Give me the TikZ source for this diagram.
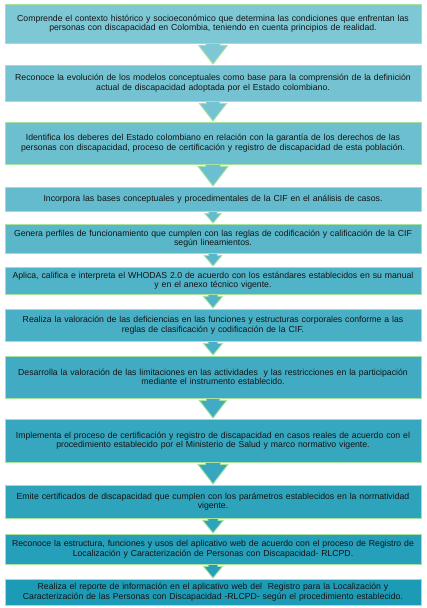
\documentclass[tikz,border=0pt]{standalone}
\usepackage{fontspec}
\setmainfont{Liberation Sans}
\usetikzlibrary{calc}
\definecolor{bc1}{RGB}{126,199,213}
\definecolor{bc2}{RGB}{117,195,210}
\definecolor{bc3}{RGB}{108,191,207}
\definecolor{bc4}{RGB}{99,187,205}
\definecolor{bc5}{RGB}{90,183,202}
\definecolor{bc6}{RGB}{81,179,199}
\definecolor{bc7}{RGB}{73,175,197}
\definecolor{bc8}{RGB}{64,171,194}
\definecolor{bc9}{RGB}{55,167,191}
\definecolor{bc10}{RGB}{46,163,188}
\definecolor{bc11}{RGB}{37,159,186}
\definecolor{bc12}{RGB}{28,155,183}
\definecolor{edgegreen}{RGB}{168,226,158}
\definecolor{txt}{RGB}{20,20,20}
\tikzset{
  box/.style={draw=edgegreen, line width=1pt, rectangle, minimum width=416pt,
    inner sep=0pt, text width=414pt, align=center, text=txt,
    font=\fontsize{8.7}{9.5}\selectfont},
  blockarrow/.style={draw=edgegreen, line width=0.9pt, line join=miter}
}
\newcommand{\downarrowbox}[3]{%
  \path[blockarrow, fill=#3] let \p1=(#1.south), \p2=(#2.north),
    \n1={\y1-\y2}, \n2={min(16,0.68*\n1)} in
    (\x1-\n2/2,\y1+3) -- (\x1-\n2/2,\y1-2) -- (\x1-\n2,\y1-2) --
    (\x1,\y2+0.5) -- (\x1+\n2,\y1-2) -- (\x1+\n2/2,\y1-2) --
    (\x1+\n2/2,\y1+3) -- cycle;}
\begin{document}
\begin{tikzpicture}[x=1pt,y=1pt]
\useasboundingbox (0,0) rectangle (426,-608);
% coordinates for nodes
\coordinate (p1) at (213,-23.5);
\coordinate (p2) at (213,-83);
\coordinate (p3) at (213,-143);
\coordinate (p4) at (213,-199);
\coordinate (p5) at (213,-238.5);
\coordinate (p6) at (213,-280.5);
\coordinate (p7) at (213,-325);
\coordinate (p8) at (213,-377);
\coordinate (p9) at (213,-440.5);
\coordinate (p10) at (213,-501.5);
\coordinate (p11) at (213,-549);
\coordinate (p12) at (213,-592);
% invisible placeholders first to have names for arrows
\node[box, draw=none, minimum height=39pt] (b1) at (p1) {};
\node[box, draw=none, minimum height=36pt] (b2) at (p2) {};
\node[box, draw=none, minimum height=42pt] (b3) at (p3) {};
\node[box, draw=none, minimum height=24pt] (b4) at (p4) {};
\node[box, draw=none, minimum height=29pt] (b5) at (p5) {};
\node[box, draw=none, minimum height=27pt] (b6) at (p6) {};
\node[box, draw=none, minimum height=32pt] (b7) at (p7) {};
\node[box, draw=none, minimum height=42pt] (b8) at (p8) {};
\node[box, draw=none, minimum height=43pt] (b9) at (p9) {};
\node[box, draw=none, minimum height=33pt] (b10) at (p10) {};
\node[box, draw=none, minimum height=30pt] (b11) at (p11) {};
\node[box, draw=none, minimum height=26pt] (b12) at (p12) {};
% arrows
\downarrowbox{b1}{b2}{bc1}
\downarrowbox{b2}{b3}{bc2}
\downarrowbox{b3}{b4}{bc3}
\downarrowbox{b4}{b5}{bc4}
\downarrowbox{b5}{b6}{bc5}
\downarrowbox{b6}{b7}{bc6}
\downarrowbox{b7}{b8}{bc7}
\downarrowbox{b8}{b9}{bc8}
\downarrowbox{b9}{b10}{bc9}
\downarrowbox{b10}{b11}{bc10}
\downarrowbox{b11}{b12}{bc11}
% boxes
\node[box, fill=bc1, minimum height=39pt] at (p1) {Comprende el contexto histórico y socioeconómico que determina las condiciones que enfrentan las\\ personas con discapacidad en Colombia, teniendo en cuenta principios de realidad.};
\node[box, fill=bc2, minimum height=36pt] at (p2) {Reconoce la evolución de los modelos conceptuales como base para la comprensión de la definición\\ actual de discapacidad adoptada por el Estado colombiano.};
\node[box, fill=bc3, minimum height=42pt] at (p3) {Identifica los deberes del Estado colombiano en relación con la garantía de los derechos de las\\ personas con discapacidad, proceso de certificación y registro de discapacidad de esta población.};
\node[box, fill=bc4, minimum height=24pt] at (p4) {Incorpora las bases conceptuales y procedimentales de la CIF en el análisis de casos.};
\node[box, fill=bc5, minimum height=29pt] at (p5) {Genera perfiles de funcionamiento que cumplen con las reglas de codificación y calificación de la CIF\\ según lineamientos.};
\node[box, fill=bc6, minimum height=27pt] at (p6) {Aplica, califica e interpreta el WHODAS 2.0 de acuerdo con los estándares establecidos en su manual\\ y en el anexo técnico vigente.};
\node[box, fill=bc7, minimum height=32pt] at (p7) {Realiza la valoración de las deficiencias en las funciones y estructuras corporales conforme a las\\ reglas de clasificación y codificación de la CIF.};
\node[box, fill=bc8, minimum height=42pt] at (p8) {Desarrolla la valoración de las limitaciones en las actividades\ \ y las restricciones en la participación\\ mediante el instrumento establecido.};
\node[box, fill=bc9, minimum height=43pt] at (p9) {Implementa el proceso de certificación y registro de discapacidad en casos reales de acuerdo con el\\ procedimiento establecido por el Ministerio de Salud y marco normativo vigente.};
\node[box, fill=bc10, minimum height=33pt] at (p10) {Emite certificados de discapacidad que cumplen con los parámetros establecidos en la normatividad\\ vigente.};
\node[box, fill=bc11, minimum height=30pt] at (p11) {Reconoce la estructura, funciones y usos del aplicativo web de acuerdo con el proceso de Registro de\\ Localización y Caracterización de Personas con Discapacidad- RLCPD.};
\node[box, fill=bc12, minimum height=26pt] at (p12) {Realiza el reporte de información en el aplicativo web del\ \ Registro para la Localización y\\ Caracterización de las Personas con Discapacidad -RLCPD- según el procedimiento establecido.};
\end{tikzpicture}
\end{document}
